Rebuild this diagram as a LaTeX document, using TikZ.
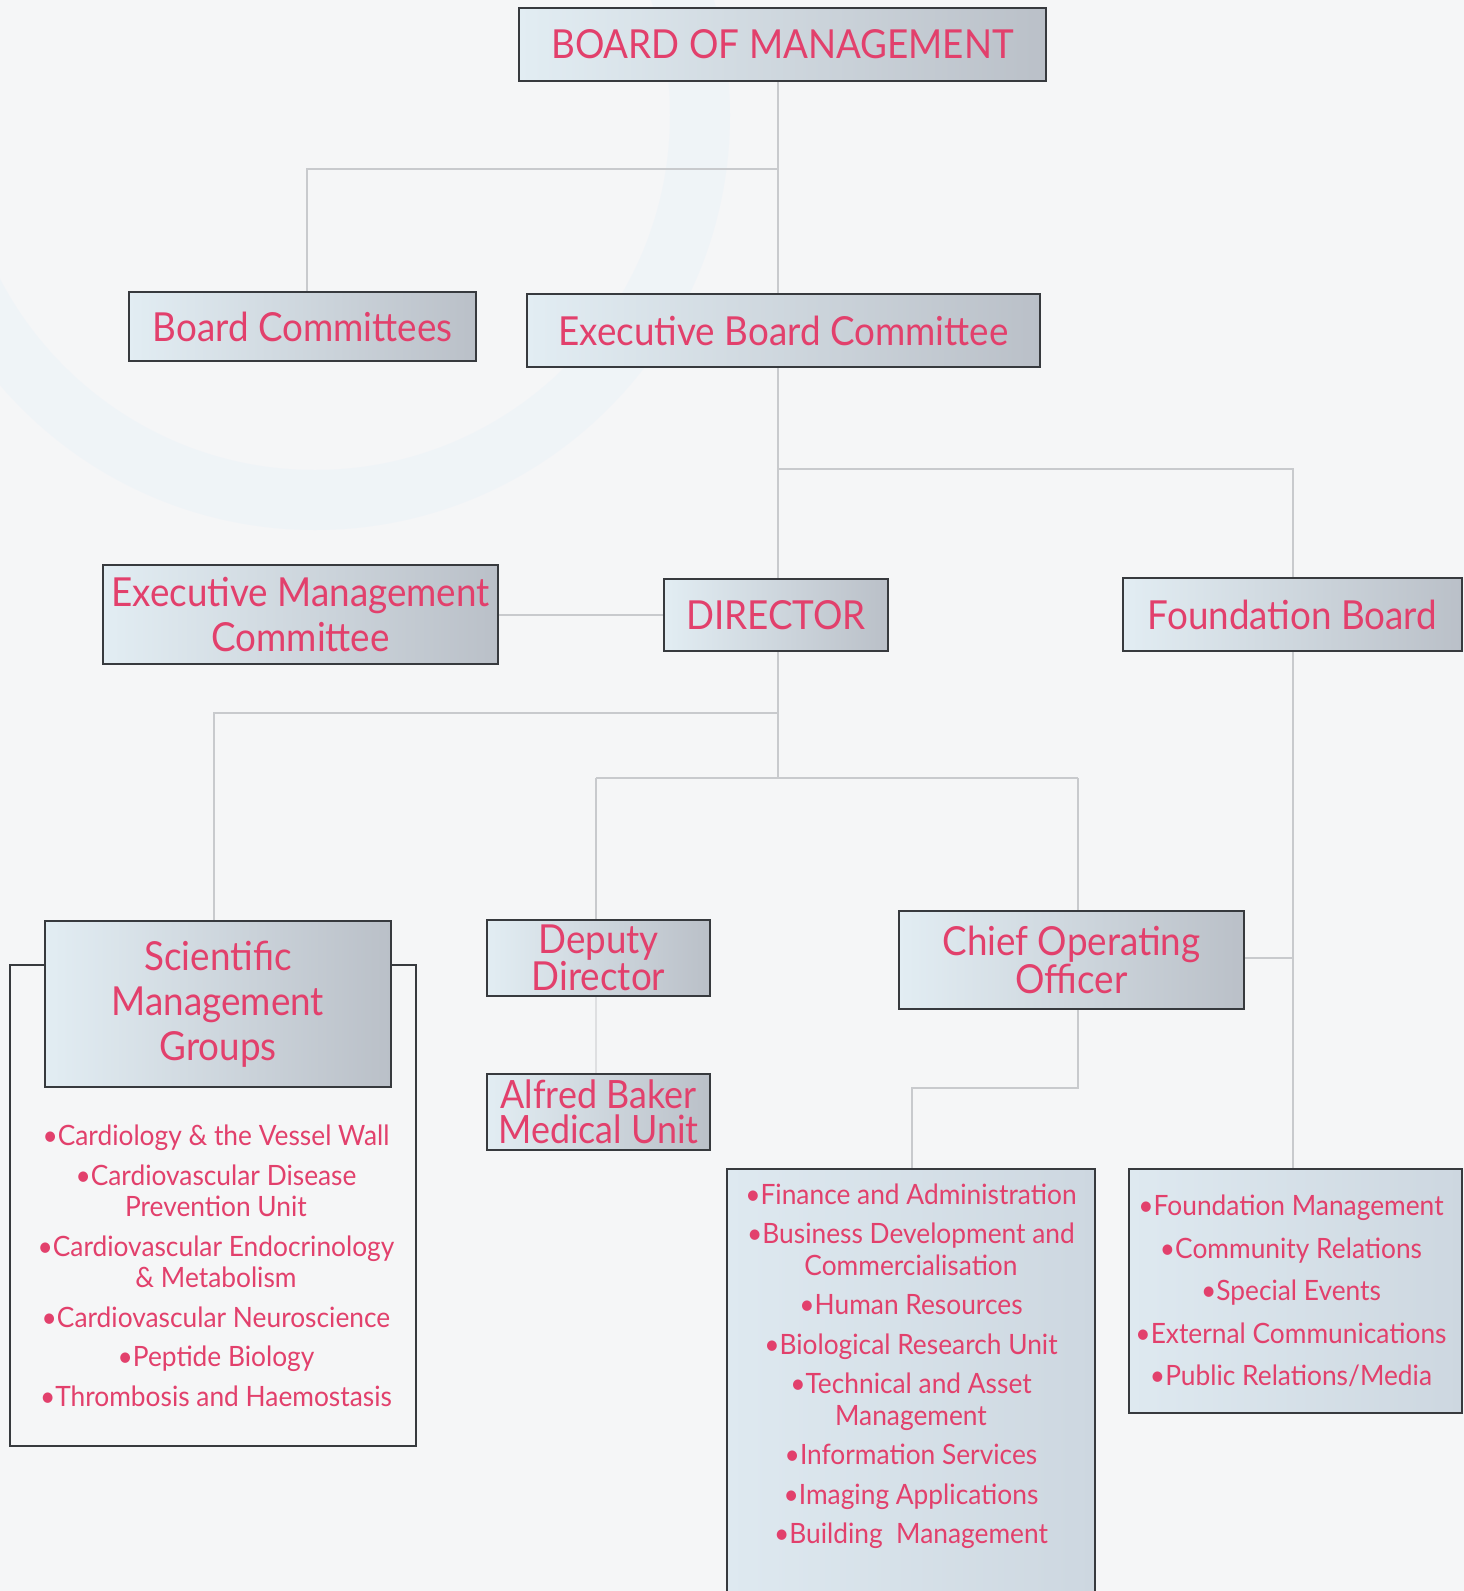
\documentclass[tikz,border=0pt]{standalone}
\usepackage{fontspec}
\setmainfont{Lato}
\newfontfamily\condfont[FakeStretch=0.92]{Lato}
\newfontfamily\listfont[FakeStretch=0.94]{Lato}
\definecolor{bg}{RGB}{245,246,247}
\definecolor{pinktxt}{RGB}{226,64,108}
\definecolor{boxline}{RGB}{55,58,62}
\definecolor{conn}{RGB}{200,202,205}
\definecolor{boxL}{RGB}{226,237,243}
\definecolor{boxR}{RGB}{186,192,200}
\definecolor{listL}{RGB}{222,233,240}
\definecolor{listR}{RGB}{205,215,224}
\definecolor{arcblue}{RGB}{230,242,247}
\tikzset{
  titlebox/.style={draw=boxline, line width=2.5pt, left color=boxL, right color=boxR,
    text=pinktxt, align=center, inner sep=0pt, font=\condfont\fontsize{40}{45}\selectfont},
  tightbox/.style={titlebox, font=\condfont\fontsize{40}{34}\selectfont},
  listbox/.style={draw=boxline, line width=2.5pt, left color=listL, right color=listR, inner sep=0pt},
  plainbox/.style={draw=boxline, line width=2.5pt, fill=bg, inner sep=0pt},
  listtext/.style={text=pinktxt, align=center, inner sep=0pt, font=\listfont\fontsize{28}{31.5}\selectfont},
  link/.style={draw=conn, line width=1.5pt}
}
\begin{document}
\begin{tikzpicture}[x=1pt,y=-1pt]
\useasboundingbox (0,0) rectangle (1464,1591);
\fill[bg] (0,0) rectangle (1464,1591);
\draw[arcblue, line width=60pt, opacity=0.65] (315,115) circle[radius=385];
\fill[bg, opacity=0.45] (0,0) rectangle (1464,1591);

% coordinates
\coordinate (trunk) at (778,0);
\coordinate (j1) at (778,169);
\coordinate (j1l) at (307,169);
\coordinate (j2) at (778,469);
\coordinate (j2r) at (1293,469);
\coordinate (j3) at (778,713);
\coordinate (j3l) at (214,713);
\coordinate (j4) at (778,778);
\coordinate (j4l) at (596,778);
\coordinate (j4r) at (1078,778);
\coordinate (j5) at (1078,1088);
\coordinate (j5l) at (912,1088);
\coordinate (j6) at (1293,958);

\node[minimum width=527pt, minimum height=73pt, titlebox] (bom) at (782.5,44.5) {BOARD OF MANAGEMENT};
\node[minimum width=347pt, minimum height=69pt, titlebox] (bc) at (302.5,326.5) {Board Committees};
\node[minimum width=513pt, minimum height=73pt, titlebox] (ebc) at (783.5,330.5) {Executive Board Committee};
\node[minimum width=395pt, minimum height=99pt, titlebox] (emc) at (300.5,614.5) {Executive Management\\Committee};
\node[minimum width=224pt, minimum height=72pt, titlebox] (dir) at (776,615) {DIRECTOR};
\node[minimum width=339pt, minimum height=73pt, titlebox] (fb) at (1292.5,614.5) {Foundation Board};

\node[plainbox, minimum width=406pt, minimum height=481pt] (outer) at (213,1205.5) {};
\node[minimum width=346pt, minimum height=166pt, titlebox] (smg) at (218,1004) {Scientific\\Management\\Groups};
\node[minimum width=223pt, minimum height=76pt, tightbox] (dd) at (598.5,958) {Deputy\\Director};
\node[minimum width=223pt, minimum height=76pt, tightbox, font=\condfont\fontsize{39}{35}\selectfont] (abmu) at (598.5,1112) {Alfred Baker\\Medical Unit};
\node[minimum width=345pt, minimum height=98pt, tightbox] (coo) at (1071.5,960) {Chief Operating\\Officer};
\node[listbox, minimum width=368pt, minimum height=432pt] (ops) at (911,1385) {};
\node[listbox, minimum width=333pt, minimum height=244pt] (fl) at (1295.5,1291) {};

\draw[link] (bom.south -| trunk) -- (ebc.north -| trunk);
\draw[link] (j1) -- (j1l) -- (bc.north -| j1l);
\draw[link] (ebc.south -| trunk) -- (dir.north -| trunk);
\draw[link] (j2) -- (j2r) -- (fb.north -| j2r);
\draw[link] (emc.east |- dir.west) -- (dir.west);
\draw[link] (dir.south -| trunk) -- (j4);
\draw[link] (j3) -- (j3l) -- (smg.north -| j3l);
\draw[link] (j4l) -- (j4r);
\draw[link] (j4l) -- (dd.north -| j4l);
\draw[link] (j4r) -- (coo.north -| j4r);
\draw[link, draw=conn!60] (dd.south -| j4l) -- (abmu.north -| j4l);
\draw[link] (coo.south -| j5) -- (j5) -- (j5l) -- (ops.north -| j5l);
\draw[link] (fb.south -| j2r) -- (fl.north -| j2r);
\draw[link] (coo.east |- j6) -- (j6);

\node[listtext] (smglist) at (216,1266) {%
•Cardiology \& the Vessel Wall\\[8pt]
•Cardiovascular Disease\\ Prevention Unit\\[8pt]
•Cardiovascular Endocrinology\\ \& Metabolism\\[8pt]
•Cardiovascular Neuroscience\\[8pt]
•Peptide Biology\\[8pt]
•Thrombosis and Haemostasis};

\node[listtext] (opslist) at (911,1366) {%
•Finance and Administration\\[8pt]
•Business Development and\\ Commercialisation\\[8pt]
•Human Resources\\[8pt]
•Biological Research Unit\\[8pt]
•Technical and Asset\\ Management\\[8pt]
•Information Services\\[8pt]
•Imaging Applications\\[8pt]
•Building\ \ Management};

\node[listtext, font=\listfont\fontsize{28}{42.5}\selectfont] (fllist) at (1291,1291) {%
•Foundation Management\\
•Community Relations\\
•Special Events\\
•External Communications\\
•Public Relations/Media};
\end{tikzpicture}
\end{document}
